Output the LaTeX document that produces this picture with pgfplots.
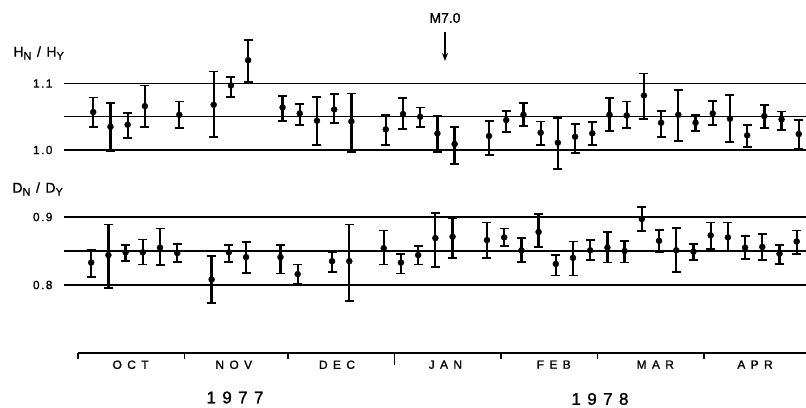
\documentclass[border=0pt]{standalone}
\usepackage{fontspec}
\setmainfont{Liberation Sans}[FakeBold=1.2]
\newfontfamily\spaced[LetterSpace=45,FakeBold=1.3]{Liberation Sans}
\newfontfamily\yspaced[LetterSpace=38,FakeBold=1.4]{Liberation Sans}
\newfontfamily\tspaced[LetterSpace=12,FakeBold=1.2]{Liberation Sans}
\usepackage{pgfplots}
\pgfplotsset{compat=1.18}
\usepackage{pgfplotstable}
\usetikzlibrary{arrows.meta}

% H_N/H_Y : day (from 1 Oct 1977), value, error up, error down
\pgfplotstableread{
x y ep em
4.5 1.057 .022 .023
9.5 1.035 .036 .037
14.5 1.038 .018 .020
19.5 1.066 .031 .032
29.5 1.053 .020 .020
39.5 1.068 .050 .049
44.5 1.097 .013 .017
49.5 1.135 .031 .033
59.5 1.064 .017 .020
64.5 1.055 .014 .017
69.5 1.044 .036 .037
74.5 1.061 .023 .021
79.5 1.043 .042 .046
89.5 1.031 .022 .023
94.5 1.054 .024 .023
99.5 1.050 .014 .016
104.5 1.025 .027 .028
109.5 1.009 .025 .030
119.5 1.021 .023 .029
124.5 1.045 .014 .018
129.5 1.053 .018 .017
134.5 1.026 .017 .019
139.5 1.011 .037 .040
144.5 1.020 .019 .024
149.5 1.025 .017 .017
154.5 1.053 .025 .025
159.5 1.052 .021 .019
164.5 1.082 .033 .035
169.5 1.041 .018 .022
174.5 1.053 .037 .040
179.5 1.041 .012 .013
184.5 1.055 .019 .018
189.5 1.047 .036 .035
194.5 1.022 .015 .017
199.5 1.051 .017 .018
204.5 1.046 .012 .016
209.5 1.024 .021 .023
}\Htab

% D_N/D_Y
\pgfplotstableread{
x y ep em
3.9 0.833 .019 .021
8.9 0.844 .045 .048
13.9 0.848 .011 .013
18.9 0.848 .019 .018
23.9 0.855 .028 .026
28.9 0.847 .013 .013
38.9 0.808 .035 .035
43.9 0.848 .011 .014
48.9 0.841 .022 .023
58.9 0.841 .018 .024
63.9 0.816 .014 .015
73.9 0.835 .013 .016
78.9 0.835 .054 .058
88.9 0.854 .026 .024
93.9 0.833 .012 .016
98.9 0.844 .013 .014
103.9 0.869 .037 .043
108.9 0.871 .027 .031
118.9 0.866 .026 .026
123.9 0.870 .013 .013
128.9 0.851 .018 .017
133.9 0.878 .026 .022
138.9 0.831 .013 .017
143.9 0.840 .024 .026
148.9 0.851 .015 .014
153.9 0.855 .023 .022
158.9 0.850 .015 .017
163.9 0.897 .018 .018
168.9 0.865 .016 .017
173.9 0.851 .033 .032
178.9 0.849 .011 .012
183.9 0.873 .019 .020
188.9 0.870 .022 .020
193.9 0.855 .017 .017
198.9 0.856 .019 .019
203.9 0.846 .013 .015
208.9 0.864 .016 .018
}\Dtab

\pgfplotsset{
  panel/.style={
    anchor=south west, scale only axis, width=742bp,
    xmin=-4, xmax=211.6, clip=false,
    axis line style={draw=none}, xtick=\empty,
    major tick length=0pt,
    ymajorgrids, grid style={black, line width=1.5bp},
    extra y tick style={grid=major},
    yticklabel style={font=\tspaced\fontsize{12}{12}\selectfont, xshift=-8bp},
  },
  pts/.style={black, only marks, mark=*, mark size=3bp,
    error bars/.cd, y dir=both, y explicit,
    error bar style={line width=2.3bp},
    error mark options={rotate=90, line width=1.8bp, mark size=4.5bp}},
}

\newcommand\sub[1]{\raisebox{-3bp}{\fontsize{11}{11}\selectfont #1}}

\begin{document}
\begin{tikzpicture}
\useasboundingbox (0,0) rectangle (806bp,408bp);

% top panel
\begin{axis}[panel, at={(64bp,224.75bp)}, height=152.95bp,
  ymin=0.95, ymax=1.18,
  ytick={1.0,1.1}, yticklabels={1.0,1.1},
  extra y ticks={1.05}, extra y tick labels={}]
\addplot[pts] table[x=x, y=y, y error plus=ep, y error minus=em] {\Htab};
\end{axis}

% bottom panel
\begin{axis}[panel, at={(64bp,95.8bp)}, height=108.8bp,
  ymin=0.76, ymax=0.92,
  ytick={0.8,0.9}, yticklabels={0.8,0.9},
  extra y ticks={0.85}, extra y tick labels={}]
\addplot[pts] table[x=x, y=y, y error plus=ep, y error minus=em] {\Dtab};
\end{axis}

% month axis
\begin{axis}[at={(78bp,55bp)}, anchor=south west, scale only axis,
  width=728bp, height=10bp, xmin=0, xmax=211.6, ymin=0, ymax=1,
  hide y axis, axis x line=bottom,
  x axis line style={-, line width=1.5bp},
  xtick={92}, xticklabels={},
  minor xtick={0,31,61,123,151,182},
  major tick length=12bp, minor tick length=6bp, tick align=outside,
  tick style={black, line width=1.5bp},
  extra x ticks={14.5,44.5,74.5,106,137.5,167,196},
  extra x tick labels={OCT,NOV,DEC,JAN,FEB,MAR,APR},
  extra x tick style={major tick length=0pt, tick style={draw=none}},
  xticklabel style={font=\spaced\fontsize{12}{12}\selectfont, yshift=-4bp, xshift=2.7bp}]
\end{axis}

\node[anchor=west, font=\tspaced\fontsize{14}{14}\selectfont] at (10bp,355bp) {H\sub{N} / H\sub{Y}};
\node[anchor=west, font=\tspaced\fontsize{14}{14}\selectfont] at (9bp,219bp) {D\sub{N} / D\sub{Y}};
\node[font=\fontsize{14}{14}\selectfont] at (445bp,390bp) {M7.0};
\draw[-{Stealth[length=8bp,width=6bp]}, line width=1.5bp] (445bp,376bp) -- (445bp,347bp);
\node[font=\yspaced\fontsize{17}{17}\selectfont] at (235bp,10.5bp) {1977};
\node[font=\yspaced\fontsize{17}{17}\selectfont] at (600bp,9bp) {1978};
\end{tikzpicture}
\end{document}
